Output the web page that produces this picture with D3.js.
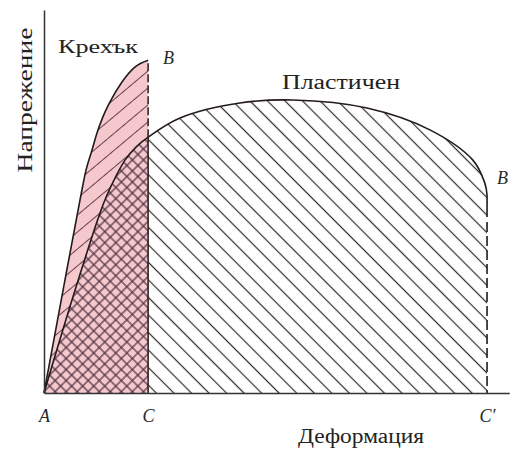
<!DOCTYPE html>
<html>
<head>
<meta charset="utf-8">
<script src="https://cdn.jsdelivr.net/npm/d3@7"></script>
<style>
    body { margin: 0; background: #fff; }
    text { font-family: "Liberation Serif", "Times New Roman", Times, serif; }
</style>
</head>
<body>
<div id="chart"></div>
<script>
// strain (x) / stress (y), chart units
var brittleStrain = [0, 3.9, 8.13, 9.48, 10.83, 11.96, 13.3, 14.9, 17.6, 20.5, 23.5];
var brittleStress = [0, 24.3, 50.4, 58.2, 63.4, 67.9, 72.1, 76.0, 81.2, 85.1, 86.9];
var plasticStrain = [0, 6.32, 12.64, 14.22, 16.03, 18.28, 20.77, 23.5, 30.7, 44.2, 56.2, 72.9, 87.1, 96.8, 99.5, 100];
var plasticStress = [0, 24.3, 47.0, 51.7, 56.1, 60.8, 64.2, 66.8, 71.8, 75.7, 76.5, 74.4, 68.7, 60.8, 54.8, 51.7];
var pointNames = ["A", "C", "C′"];
var pointStrain = [0, 23.5, 100];
var curveNames = ["Крехък", "Пластичен"];
var axisNames = ["Деформация", "Напрежение"];
var breakName = "B";

var width = 513, height = 455;

var svg = d3.select("#chart")
    .append("svg")
    .attr("width", width)
    .attr("height", height);

var x = d3.scaleLinear()
    .domain([0, 105])
    .range([44, 509.2]);

var y = d3.scaleLinear()
    .domain([0, 100])
    .range([393, 10]);

var brittle = brittleStrain.map(function (d, i) { return [d, brittleStress[i]]; });
var plastic = plasticStrain.map(function (d, i) { return [d, plasticStress[i]]; });

function areaOf(curve) {
    return d3.area()
        .x(function (d) { return x(d[0]); })
        .y0(y(0))
        .y1(function (d) { return y(d[1]); })
        .curve(curve);
}

function lineOf(curve) {
    return d3.line()
        .x(function (d) { return x(d[0]); })
        .y(function (d) { return y(d[1]); })
        .curve(curve);
}

var brittleArea = areaOf(d3.curveMonotoneX),
    brittleLine = lineOf(d3.curveMonotoneX),
    plasticArea = areaOf(d3.curveCatmullRom.alpha(0.5)),
    plasticLine = lineOf(d3.curveCatmullRom.alpha(0.5));

// hatch patterns
var defs = svg.append("defs");

var p1 = defs.append("pattern")
    .attr("id", "plasticHatch")
    .attr("patternUnits", "userSpaceOnUse")
    .attr("width", 12.4).attr("height", 12.4)
    .attr("patternTransform", "rotate(-45)");
p1.append("line")
    .attr("x1", 6.2).attr("y1", 0).attr("x2", 6.2).attr("y2", 12.4)
    .attr("stroke", "#2c2c2c").attr("stroke-width", 1.2);

var p2 = defs.append("pattern")
    .attr("id", "brittleHatch")
    .attr("patternUnits", "userSpaceOnUse")
    .attr("width", 13).attr("height", 13)
    .attr("patternTransform", "rotate(50)");
p2.append("rect")
    .attr("width", 13).attr("height", 13)
    .attr("fill", "#f5c8ce");
p2.append("line")
    .attr("x1", 6.5).attr("y1", 0).attr("x2", 6.5).attr("y2", 13)
    .attr("stroke", "#6a3f48").attr("stroke-width", 1);

var p3 = defs.append("pattern")
    .attr("id", "crossHatch")
    .attr("patternUnits", "userSpaceOnUse")
    .attr("width", 7.8).attr("height", 7.8)
    .attr("patternTransform", "rotate(45)");
p3.append("rect")
    .attr("width", 7.8).attr("height", 7.8)
    .attr("fill", "#f5c8ce");
p3.append("line")
    .attr("x1", 3.9).attr("y1", 0).attr("x2", 3.9).attr("y2", 7.8)
    .attr("stroke", "#4a2d3c").attr("stroke-width", 1.2);
p3.append("line")
    .attr("x1", 0).attr("y1", 3.9).attr("x2", 7.8).attr("y2", 3.9)
    .attr("stroke", "#4a2d3c").attr("stroke-width", 1.2);

defs.append("clipPath")
    .attr("id", "brittleClip")
    .append("path")
    .attr("d", brittleArea(brittle));

// filled areas
svg.append("path")
    .attr("d", plasticArea(plastic))
    .attr("fill", "url(#plasticHatch)");

svg.append("path")
    .attr("d", brittleArea(brittle))
    .attr("fill", "url(#brittleHatch)");

svg.append("path")
    .attr("d", plasticArea(plastic))
    .attr("clip-path", "url(#brittleClip)")
    .attr("fill", "url(#crossHatch)");

// curves
svg.append("path")
    .attr("d", brittleLine(brittle))
    .attr("fill", "none")
    .attr("stroke", "#231a1c")
    .attr("stroke-width", 1.6);

svg.append("path")
    .attr("d", plasticLine(plastic))
    .attr("fill", "none")
    .attr("stroke", "#231a1c")
    .attr("stroke-width", 1.6);

// vertical line at C: solid under plastic curve, dashed above
var cStrain = pointStrain[1];
var plasticAtC = plasticStress[plasticStrain.indexOf(cStrain)];
var brittleTop = brittleStress[brittleStress.length - 1];

svg.append("line")
    .attr("x1", x(cStrain)).attr("x2", x(cStrain))
    .attr("y1", y(0)).attr("y2", y(plasticAtC))
    .attr("stroke", "#231a1c").attr("stroke-width", 1.5);

svg.append("line")
    .attr("x1", x(cStrain)).attr("x2", x(cStrain))
    .attr("y1", y(plasticAtC)).attr("y2", y(brittleTop))
    .attr("stroke", "#231a1c").attr("stroke-width", 1.5)
    .attr("stroke-dasharray", "8,3");

// vertical line at C' (dashed)
var c2Strain = pointStrain[2];
var plasticEnd = plasticStress[plasticStress.length - 1];

svg.append("line")
    .attr("x1", x(c2Strain)).attr("x2", x(c2Strain))
    .attr("y1", y(plasticEnd)).attr("y2", y(0))
    .attr("stroke", "#231a1c").attr("stroke-width", 1.6)
    .attr("stroke-dasharray", "22,5,10,4,10,4,10,4,10,4,10,4,10,4,10,4,10,4,10,4,10,4,10,4,10,4,10,4");

// Add X axis
var xAxis = svg.append("g")
    .attr("transform", "translate(0," + y(0) + ")")
    .call(d3.axisBottom(x)
        .tickValues(pointStrain)
        .tickFormat(function (d, i) { return pointNames[i]; })
        .tickSize(0)
        .tickPadding(16));

xAxis.attr("font-family", null);

xAxis.select(".domain")
    .attr("stroke", "#333")
    .attr("stroke-width", 1.5);

xAxis.selectAll("text")
    .attr("font-style", "italic")
    .attr("font-size", 18)
    .attr("fill", "#2a2a2a");

// Add Y axis
var yAxis = svg.append("g")
    .attr("transform", "translate(" + x(0) + ",0)")
    .call(d3.axisLeft(y).tickValues([]).tickSizeOuter(0));

yAxis.select(".domain")
    .attr("stroke", "#333")
    .attr("stroke-width", 1.5);

// text labels
svg.append("text")
    .attr("x", 58)
    .attr("y", 53)
    .attr("font-size", 18)
    .attr("textLength", 80)
    .attr("lengthAdjust", "spacingAndGlyphs")
    .attr("fill", "#222")
    .text(curveNames[0]);

svg.append("text")
    .attr("x", 282)
    .attr("y", 89)
    .attr("font-size", 20)
    .attr("textLength", 118)
    .attr("lengthAdjust", "spacingAndGlyphs")
    .attr("fill", "#222")
    .text(curveNames[1]);

svg.append("text")
    .attr("x", 298)
    .attr("y", 443)
    .attr("font-size", 20)
    .attr("textLength", 126)
    .attr("lengthAdjust", "spacingAndGlyphs")
    .attr("fill", "#222")
    .text(axisNames[0]);

svg.append("text")
    .attr("transform", "translate(32,100) rotate(-90)")
    .style("text-anchor", "middle")
    .attr("font-size", 22)
    .attr("textLength", 145)
    .attr("lengthAdjust", "spacingAndGlyphs")
    .attr("fill", "#222")
    .text(axisNames[1]);

// break points
svg.append("text")
    .attr("x", x(cStrain) + 15)
    .attr("y", y(brittleTop) + 4)
    .attr("font-style", "italic")
    .attr("font-size", 18)
    .attr("fill", "#2a2a2a")
    .text(breakName);

svg.append("text")
    .attr("x", x(c2Strain) + 10)
    .attr("y", y(plasticEnd) - 11)
    .attr("font-style", "italic")
    .attr("font-size", 18)
    .attr("fill", "#2a2a2a")
    .text(breakName);
</script>
</body>
</html>
